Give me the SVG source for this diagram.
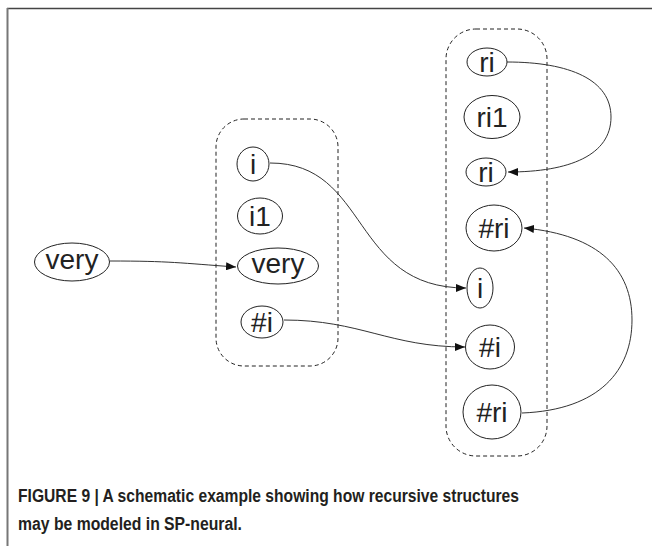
<svg xmlns="http://www.w3.org/2000/svg" width="652" height="546" viewBox="0 0 652 546">
<defs>
<marker id="arr" viewBox="0 0 10 8" refX="10" refY="4" markerWidth="10" markerHeight="8" markerUnits="userSpaceOnUse" orient="auto">
<path d="M0,0 L10,4 L0,8 z" fill="#111"/>
</marker>
<style>
.node ellipse{fill:#fff;stroke:#222;stroke-width:1}
.node text{font-family:"Liberation Sans",Arial,sans-serif;font-size:28px;fill:#222;text-anchor:middle}
.box{fill:none;stroke:#222;stroke-width:1;stroke-dasharray:4,3}
.edge{fill:none;stroke:#333;stroke-width:1;marker-end:url(#arr)}
.cap{font-family:"Liberation Sans",Arial,sans-serif;font-weight:bold;font-size:18px;fill:#231f20}
</style>
</defs>
<rect width="652" height="546" fill="#fff"/>
<line x1="7" y1="8.5" x2="652" y2="8.5" stroke="#444" stroke-width="1.5"/>
<line x1="7.5" y1="8" x2="7.5" y2="546" stroke="#777" stroke-width="2"/>
<rect class="box" x="216" y="119" width="122" height="247" rx="28" ry="28"/>
<rect class="box" x="446" y="29" width="101" height="427" rx="30" ry="30"/>
<g id="connectors">
<path class="edge" d="M507,62 C570,62 611,80 611,117 C611,155 570,172 508,172"/>
<path class="edge" d="M522,413 C600,410 632,370 632,320 C632,270 600,235 524,228"/>
<path class="edge" d="M270,163 C370,163 350,288 466,288"/>
<path class="edge" d="M284,320 C360,320 390,347 465,347"/>
<path class="edge" d="M110,261 C170,261 180,263 236,267"/>
</g>
<g id="n_very_left" class="node"><ellipse cx="72" cy="262" rx="37.5" ry="19"/><text x="72" y="269">very</text></g>
<g id="n_i_left" class="node"><ellipse cx="253" cy="164" rx="16" ry="17"/><text x="253" y="174">i</text></g>
<g id="n_i1" class="node"><ellipse cx="260" cy="216" rx="22.5" ry="18"/><text x="260" y="226">i1</text></g>
<g id="n_very_box" class="node"><ellipse cx="278" cy="266" rx="40.5" ry="18"/><text x="278" y="273">very</text></g>
<g id="n_hash_i_left" class="node"><ellipse cx="262" cy="322" rx="21" ry="16"/><text x="262" y="332">#i</text></g>
<g id="n_ri_top" class="node"><ellipse cx="487" cy="62" rx="20" ry="14"/><text x="487" y="72">ri</text></g>
<g id="n_ri1" class="node"><ellipse cx="492" cy="117" rx="28" ry="21.5"/><text x="492" y="127">ri1</text></g>
<g id="n_ri_mid" class="node"><ellipse cx="486" cy="172" rx="20" ry="14"/><text x="486" y="182">ri</text></g>
<g id="n_hash_ri_top" class="node"><ellipse cx="494" cy="228" rx="28" ry="23"/><text x="494" y="238">#ri</text></g>
<g id="n_i_right" class="node"><ellipse cx="480" cy="288" rx="13" ry="20"/><text x="480" y="298">i</text></g>
<g id="n_hash_i_right" class="node"><ellipse cx="490" cy="347" rx="24.5" ry="22"/><text x="490" y="357">#i</text></g>
<g id="n_hash_ri_bottom" class="node"><ellipse cx="492" cy="412" rx="29" ry="27"/><text x="492" y="422">#ri</text></g>
<text class="cap" x="18" y="502" textLength="501" lengthAdjust="spacingAndGlyphs">FIGURE 9 | A schematic example showing how recursive structures</text>
<text class="cap" x="18" y="530" textLength="224" lengthAdjust="spacingAndGlyphs">may be modeled in SP-neural.</text>
</svg>
